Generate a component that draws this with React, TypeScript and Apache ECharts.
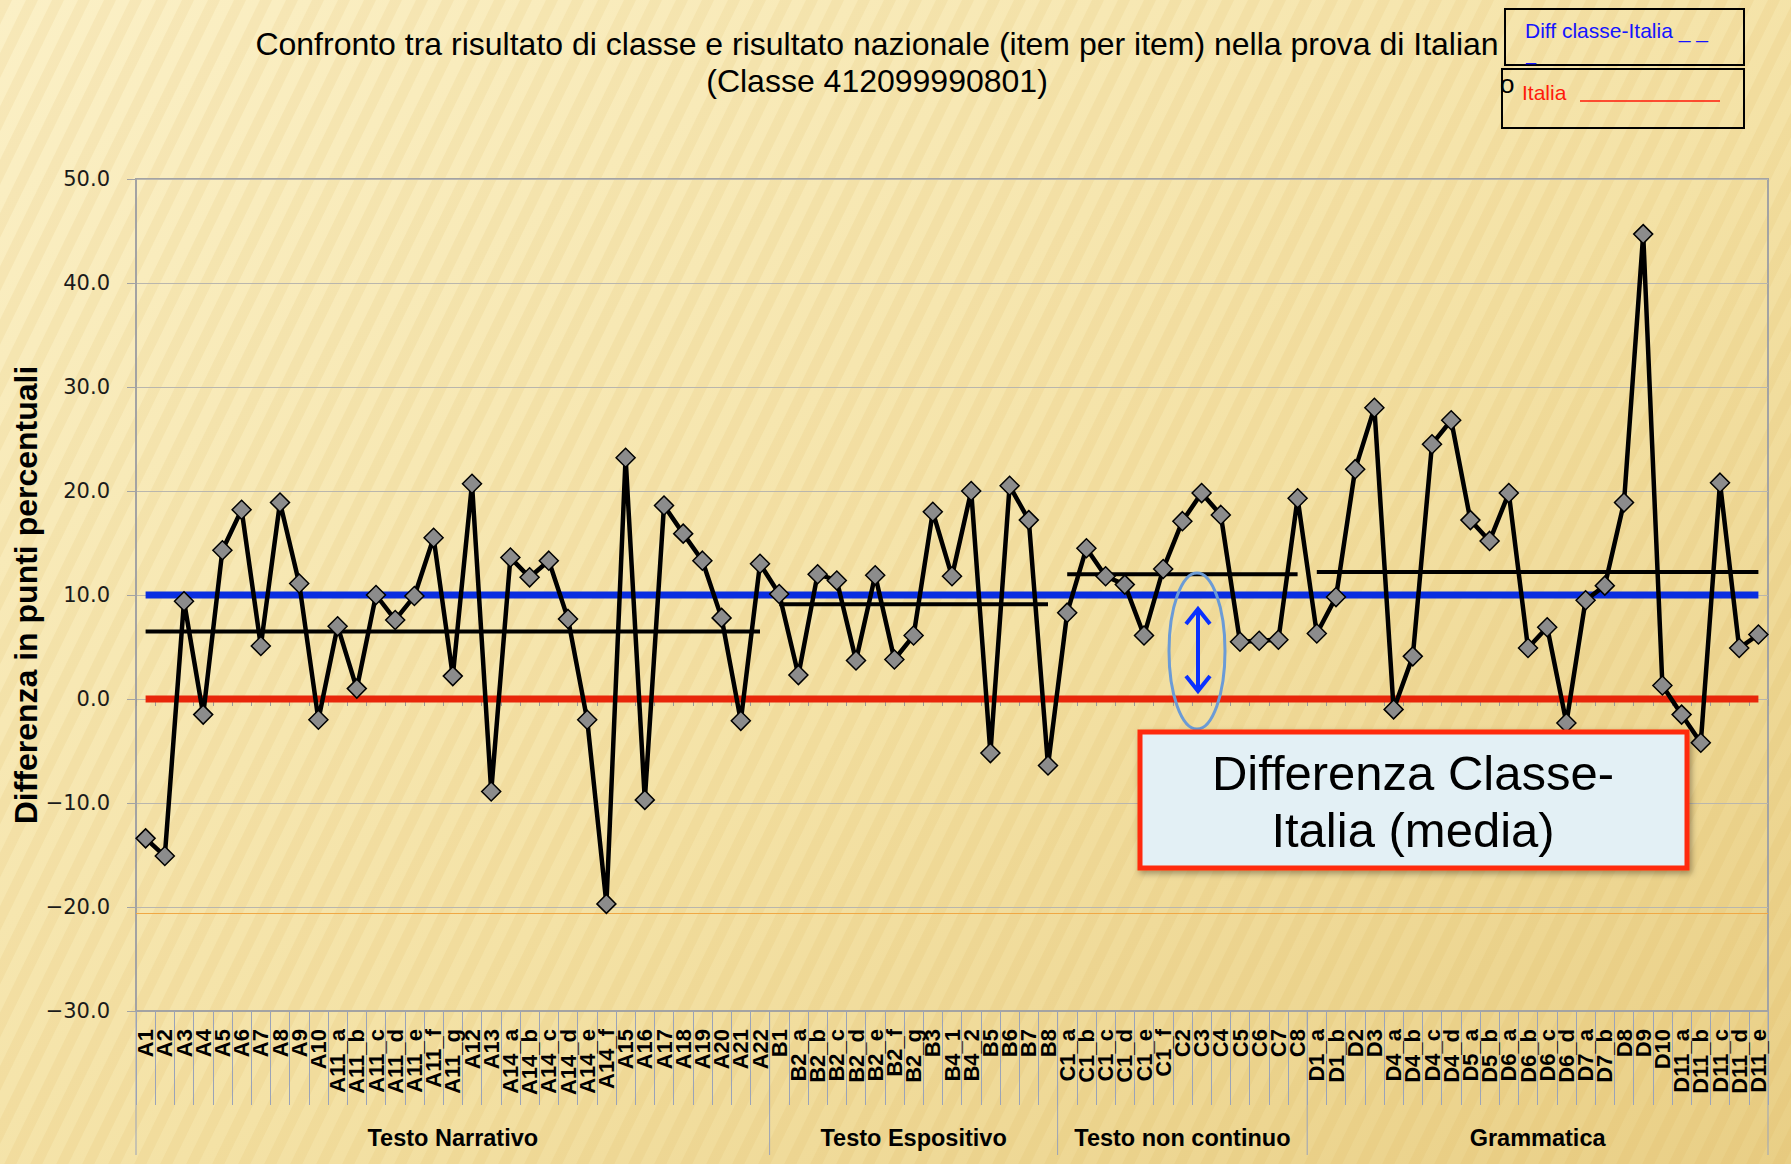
import { useEffect, useRef } from "react";
import * as echarts from "echarts";

// ---- Data ----
const narrativoItems = ["A1","A2","A3","A4","A5","A6","A7","A8","A9","A10","A11_a","A11_b","A11_c","A11_d","A11_e","A11_f","A11_g","A12","A13","A14_a","A14_b","A14_c","A14_d","A14_e","A14_f","A15","A16","A17","A18","A19","A20","A21","A22"];
const narrativoValues = [-13.4,-15.1,9.4,-1.5,14.3,18.2,5.1,18.9,11.1,-2.0,7.0,1.0,10.0,7.6,9.9,15.5,2.2,20.7,-8.9,13.6,11.7,13.3,7.7,-2.0,-19.7,23.2,-9.7,18.6,15.9,13.3,7.8,-2.1,13.0];

const espositivoItems = ["B1","B2_a","B2_b","B2_c","B2_d","B2_e","B2_f","B2_g","B3","B4_1","B4_2","B5","B6","B7","B8"];
const espositivoValues = [10.1,2.3,12.0,11.4,3.7,11.9,3.8,6.1,18.0,11.8,20.0,-5.2,20.5,17.2,-6.4];

const nonContinuoItems = ["C1_a","C1_b","C1_c","C1_d","C1_e","C1_f","C2","C3","C4","C5","C6","C7","C8"];
const nonContinuoValues = [8.3,14.5,11.8,11.0,6.1,12.5,17.1,19.8,17.7,5.5,5.6,5.7,19.3];

const grammaticaItems = ["D1_a","D1_b","D2","D3","D4_a","D4_b","D4_c","D4_d","D5_a","D5_b","D6_a","D6_b","D6_c","D6_d","D7_a","D7_b","D8","D9","D10","D11_a","D11_b","D11_c","D11_d","D11_e"];
const grammaticaValues = [6.3,9.8,22.1,28.0,-1.0,4.1,24.5,26.8,17.2,15.2,19.8,4.9,6.9,-2.3,9.5,10.9,18.9,44.7,1.3,-1.5,-4.2,20.8,4.9,6.2];

const groupNames = ["Testo Narrativo","Testo Espositivo","Testo non continuo","Grammatica"];
const groupMeans = [6.5, 9.1, 12.0, 12.2];

const diffClasseItalia = 10.0;
const italiaValue = 0.0;
const orangeRefValue = -20.6;

const yMin = -30;
const yMax = 50;
const yInterval = 10;

const titleLines = [
  "Confronto tra risultato di classe e risultato nazionale (item per item) nella prova di Italian",
  "(Classe 412099990801)",
];

function buildStripes(width: number, height: number): any[] {
  // decorative diagonal background texture
  const out: any[] = [];
  const period = 26;
  const band = 12;
  const slope = 1 / Math.tan((64 * Math.PI) / 180);
  const shift = height * slope;
  for (let x0 = -shift; x0 < width + period; x0 += period) {
    out.push({
      type: "polygon",
      silent: true,
      z: -100,
      shape: {
        points: [
          [x0, height],
          [x0 + band, height],
          [x0 + band + shift, 0],
          [x0 + shift, 0],
        ],
      },
      style: { fill: "rgba(214,170,70,0.10)" },
    });
  }
  return out;
}

export default function App() {
  const ref = useRef<HTMLDivElement>(null);

  useEffect(() => {
    const chart = echarts.init(ref.current!, null, { renderer: "svg" });

    const groups = [
      { name: groupNames[0], items: narrativoItems, values: narrativoValues, mean: groupMeans[0] },
      { name: groupNames[1], items: espositivoItems, values: espositivoValues, mean: groupMeans[1] },
      { name: groupNames[2], items: nonContinuoItems, values: nonContinuoValues, mean: groupMeans[2] },
      { name: groupNames[3], items: grammaticaItems, values: grammaticaValues, mean: groupMeans[3] },
    ];
    const categories = groups.flatMap((g) => g.items);
    const values = groups.flatMap((g) => g.values);

    const ranges: { start: number; end: number }[] = [];
    let off = 0;
    for (const g of groups) {
      ranges.push({ start: off, end: off + g.items.length - 1 });
      off += g.items.length;
    }

    const meanSeries = groups.map((g, gi) => ({
      type: "line",
      name: "media " + g.name,
      data: categories.map((_, i) => (i >= ranges[gi].start && i <= ranges[gi].end ? g.mean : null)),
      symbol: "none",
      lineStyle: { color: "#000", width: 4 },
      z: 3,
      silent: true,
    }));

    const font = "Liberation Sans, Arial, sans-serif";

    const option: any = {
      animation: false,
      backgroundColor: new echarts.graphic.LinearGradient(0, 0, 1, 1, [
        { offset: 0, color: "#fbf0c6" },
        { offset: 0.55, color: "#f4e2a6" },
        { offset: 1, color: "#e9cf86" },
      ]),
      grid: {
        left: 136,
        top: 179,
        width: 1632,
        height: 832,
        show: true,
        borderColor: "#a3a3a3",
        borderWidth: 2,
        backgroundColor: "rgba(0,0,0,0)",
      },
      xAxis: [
        {
          type: "category",
          data: categories,
          boundaryGap: true,
          position: "bottom",
          axisLine: { show: true, onZero: false, lineStyle: { color: "#a3a3a3", width: 2 } },
          axisTick: { show: true, interval: 0, length: 94, lineStyle: { color: "#9aa3b8", width: 1 } },
          axisLabel: {
            interval: 0,
            rotate: 90,
            margin: 18,
            fontFamily: font,
            fontWeight: "bold",
            fontSize: 22,
            color: "#000",
            hideOverlap: false,
          },
          splitLine: { show: false },
        },
        {
          type: "category",
          data: categories,
          boundaryGap: true,
          position: "bottom",
          axisLine: { show: false, onZero: true, onZeroAxisIndex: 0 },
          axisTick: { show: true, interval: 0, length: 7, lineStyle: { color: "#9a9a9a", width: 1 } },
          axisLabel: { show: false },
          splitLine: { show: false },
        },
      ],
      yAxis: {
        type: "value",
        min: yMin,
        max: yMax,
        interval: yInterval,
        axisLine: { show: true, lineStyle: { color: "#a3a3a3", width: 2 } },
        axisTick: { show: true, length: 9, lineStyle: { color: "#a3a3a3" } },
        axisLabel: {
          formatter: (v: number) => (v < 0 ? "\u2212" : "") + Math.abs(v).toFixed(1),
          fontFamily: "DejaVu Sans, Verdana, sans-serif",
          fontSize: 21,
          color: "#1a1a1a",
          margin: 26,
        },
        splitLine: { show: true, lineStyle: { color: "#b9b6ad", width: 1 } },
      },
      series: [
        {
          type: "line",
          name: "Diff classe-Italia",
          data: categories.map(() => diffClasseItalia),
          symbol: "none",
          lineStyle: { color: "#0a2ee0", width: 7 },
          z: 2,
          silent: true,
        },
        {
          type: "line",
          name: "Italia",
          data: categories.map(() => italiaValue),
          symbol: "none",
          lineStyle: { color: "#e8260a", width: 7 },
          z: 2,
          silent: true,
        },
        ...meanSeries,
        {
          type: "line",
          name: "Differenza",
          data: values,
          symbol: "diamond",
          symbolSize: 19,
          lineStyle: { color: "#000", width: 4.5 },
          itemStyle: { color: "#8c8c8c", borderColor: "#000", borderWidth: 1.5 },
          z: 5,
          markLine: {
            silent: true,
            symbol: "none",
            label: { show: false },
            lineStyle: { color: "#f0a845", width: 1, type: "solid" },
            data: [{ yAxis: orangeRefValue }],
          },
        },
      ],
    };

    chart.setOption(option);

    // Group separators and labels, computed from the category axis
    const px = (i: number) => chart.convertToPixel({ xAxisIndex: 0 }, categories[i]) as number;
    const step = px(1) - px(0);
    const axisBottom = 179 + 832;
    const sepLines: any[] = [];
    const groupLabels: any[] = [];
    const boundaries = [px(0) - step / 2, ...ranges.map((r) => px(r.end) + step / 2)];
    boundaries.forEach((bx) => {
      sepLines.push({
        type: "line",
        silent: true,
        shape: { x1: bx, y1: axisBottom, x2: bx, y2: axisBottom + 144 },
        style: { stroke: "#9aa3b8", lineWidth: 1 },
      });
    });
    groups.forEach((g, gi) => {
      const cx = (px(ranges[gi].start) + px(ranges[gi].end)) / 2;
      groupLabels.push({
        type: "text",
        silent: true,
        x: cx,
        y: axisBottom + 127,
        style: {
          text: g.name,
          fontFamily: font,
          fontWeight: "bold",
          fontSize: 23.5,
          fill: "#000",
          textAlign: "center",
          textVerticalAlign: "middle",
        },
      });
    });

    const graphics: any[] = [
      ...buildStripes(1791, 1164),
      // Title
      {
        type: "text",
        silent: true,
        x: 877,
        y: 44,
        style: {
          text: titleLines[0],
          fontFamily: font,
          fontSize: 32,
          fill: "#000",
          textAlign: "center",
          textVerticalAlign: "middle",
        },
      },
      {
        type: "text",
        silent: true,
        x: 877,
        y: 81,
        style: {
          text: titleLines[1],
          fontFamily: font,
          fontSize: 32,
          fill: "#000",
          textAlign: "center",
          textVerticalAlign: "middle",
        },
      },
      // Y axis name
      {
        type: "text",
        silent: true,
        x: 26,
        y: 595,
        rotation: Math.PI / 2,
        style: {
          text: "Differenza in punti percentuali",
          fontFamily: font,
          fontWeight: "bold",
          fontSize: 32,
          fill: "#000",
          textAlign: "center",
          textVerticalAlign: "middle",
        },
      },
      // Legend boxes
      {
        type: "rect",
        silent: true,
        shape: { x: 1505, y: 9, width: 239, height: 56 },
        style: { fill: "none", stroke: "#000", lineWidth: 2 },
      },
      {
        type: "text",
        silent: true,
        x: 1525,
        y: 30,
        style: {
          text: "Diff classe-Italia _ _",
          fontFamily: font,
          fontSize: 21,
          fill: "#1414ff",
          textVerticalAlign: "middle",
        },
      },
      {
        type: "text",
        silent: true,
        x: 1526,
        y: 54,
        style: { text: "_", fontFamily: font, fontSize: 18, fill: "#1414ff", textVerticalAlign: "middle" },
      },
      {
        type: "rect",
        silent: true,
        shape: { x: 1502, y: 69, width: 242, height: 59 },
        style: { fill: "none", stroke: "#000", lineWidth: 2 },
      },
      {
        type: "text",
        silent: true,
        x: 1500,
        y: 84,
        style: { text: "o", fontFamily: font, fontSize: 26, fill: "#000", textVerticalAlign: "middle" },
      },
      {
        type: "text",
        silent: true,
        x: 1522,
        y: 92,
        style: { text: "Italia", fontFamily: font, fontSize: 21, fill: "#ff1a0a", textVerticalAlign: "middle" },
      },
      {
        type: "line",
        silent: true,
        shape: { x1: 1580, y1: 101, x2: 1720, y2: 101 },
        style: { stroke: "#ff1a0a", lineWidth: 1.5 },
      },
      // Annotation: ellipse + double arrow
      {
        type: "ellipse",
        silent: true,
        shape: { cx: 1197, cy: 651, rx: 28, ry: 78 },
        style: { fill: "none", stroke: "#6b9bd6", lineWidth: 3 },
        z: 10,
      },
      {
        type: "line",
        silent: true,
        shape: { x1: 1198, y1: 610, x2: 1198, y2: 690 },
        style: { stroke: "#0a30ff", lineWidth: 4 },
        z: 10,
      },
      {
        type: "polyline",
        silent: true,
        shape: { points: [[1186, 624], [1198, 609], [1210, 624]] },
        style: { fill: "none", stroke: "#0a30ff", lineWidth: 4 },
        z: 10,
      },
      {
        type: "polyline",
        silent: true,
        shape: { points: [[1186, 676], [1198, 691], [1210, 676]] },
        style: { fill: "none", stroke: "#0a30ff", lineWidth: 4 },
        z: 10,
      },
      // Annotation box
      {
        type: "rect",
        silent: true,
        shape: { x: 1140, y: 732, width: 547, height: 136 },
        style: { fill: "#e3f0f5", stroke: "#ff2a0a", lineWidth: 5, shadowBlur: 6, shadowColor: "rgba(0,0,0,0.35)", shadowOffsetX: 2, shadowOffsetY: 3 },
        z: 10,
      },
      {
        type: "text",
        silent: true,
        x: 1413,
        y: 801,
        z: 11,
        style: {
          text: "Differenza Classe-\nItalia (media)",
          fontFamily: font,
          fontSize: 49,
          lineHeight: 57,
          fill: "#000",
          textAlign: "center",
          textVerticalAlign: "middle",
        },
      },
      ...sepLines,
      ...groupLabels,
    ];

    chart.setOption({ graphic: { elements: graphics } });

    return () => {
      chart.dispose();
    };
  }, []);

  return (
    <div
      ref={ref}
      style={{ position: "fixed", left: 0, top: 0, width: 1791, height: 1164 }}
    />
  );
}
